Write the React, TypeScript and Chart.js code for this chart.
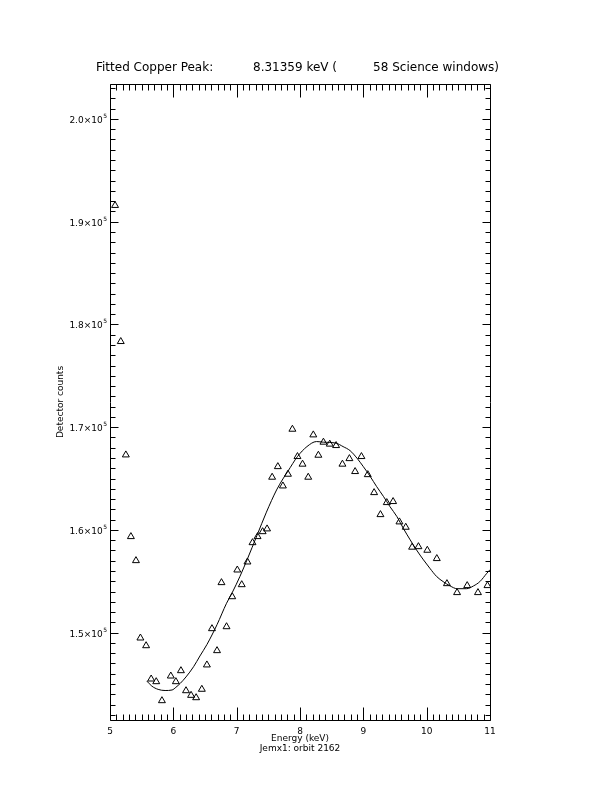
import React, { useEffect, useRef } from 'react';
import { Chart, registerables } from 'chart.js';

Chart.register(...registerables);

// Observed detector counts (triangles)
const obsEnergy = [
  5.08, 5.17, 5.25, 5.33, 5.41, 5.48, 5.57, 5.65, 5.73, 5.82,
  5.96, 6.04, 6.12, 6.20, 6.28, 6.36, 6.45, 6.53, 6.61, 6.69, 6.76, 6.84, 6.93,
  7.01, 7.08, 7.17, 7.25, 7.33, 7.41, 7.48, 7.56, 7.65, 7.73, 7.81, 7.88, 7.96,
  8.04, 8.13, 8.21, 8.29, 8.37, 8.47, 8.57, 8.67, 8.78, 8.87, 8.97,
  9.07, 9.17, 9.27, 9.37, 9.47, 9.57, 9.67, 9.77, 9.87,
  10.01, 10.16, 10.32, 10.48, 10.64, 10.81, 10.96,
];
const obsCounts = [
  191580, 178335, 167300, 159350, 157010, 149480, 148730, 145490, 145230, 143380,
  145780, 145230, 146300, 144350, 143900, 143670, 144490, 146860, 150390, 148250, 154870, 150580, 153500,
  156100, 154670, 156880, 158760, 159350, 159830, 160100, 165130, 166160, 164280, 165420, 169800, 167140,
  166400, 165130, 169250, 167270, 168540, 168350, 168210, 166400, 166940, 165680, 167140,
  165380, 163630, 161490, 162660, 162760, 160780, 160260, 158320, 158370,
  158020, 157210, 154770, 153900, 154580, 153900, 154580,
];

// Fitted curve (solid line)
const fitEnergy = [
  5.58, 5.66, 5.76, 5.87, 5.98, 6.04, 6.11, 6.20, 6.32, 6.42, 6.53, 6.69, 6.84, 6.93,
  7.05, 7.17, 7.32, 7.47, 7.63, 7.73, 7.81, 7.96, 8.11, 8.26, 8.37, 8.57, 8.68, 8.79,
  8.90, 9.00, 9.11, 9.21, 9.32, 9.42, 9.53, 9.63, 9.74, 9.84, 9.95, 10.05, 10.16,
  10.26, 10.37, 10.48, 10.63, 10.74, 10.84, 10.95, 11.0,
];
const fitCounts = [
  145300, 144800, 144480, 144370, 144420, 144680, 145070, 145690, 146690, 147730, 148840, 150780, 152860, 153900,
  155450, 157180, 159450, 161730, 163890, 164960, 165720, 167140, 168110, 168600, 168540, 168440, 168110, 167720,
  166980, 166160, 165190, 164220, 163240, 162270, 161300, 160170, 159030, 158050, 157080, 156270, 155450,
  154970, 154550, 154280, 154280, 154550, 154970, 155780, 156130,
];

const xTickValues = [5, 6, 7, 8, 9, 10, 11];
const xTickLabels = ['5', '6', '7', '8', '9', '10', '11'];
const yTickValues = [150000, 160000, 170000, 180000, 190000, 200000];
const yTickMantissas = ['1.5', '1.6', '1.7', '1.8', '1.9', '2.0'];
const yTickExponent = '5';
const titleParts = ['Fitted Copper Peak:', '8.31359 keV (', '58 Science windows)'];
const xTitle = 'Energy (keV)';
const xSubtitle = 'Jemx1: orbit 2162';
const yTitle = 'Detector counts';

const X_MIN = 5;
const X_MAX = 11;
const Y_MIN = 141500;
const Y_MAX = 203400;

const FONT = '"DejaVu Sans", sans-serif';

const framePlugin = {
  id: 'idlFrame',
  afterDraw(chart: any) {
    const ctx = chart.ctx as CanvasRenderingContext2D;
    const { left, right, top, bottom } = chart.chartArea;
    const xs = chart.scales.x;
    const ys = chart.scales.y;
    ctx.save();
    ctx.strokeStyle = '#000';
    ctx.fillStyle = '#000';
    ctx.lineWidth = 1;
    const L = Math.round(left) + 0.5;
    const R = Math.round(right) + 0.5;
    const T = Math.round(top) + 0.5;
    const B = Math.round(bottom) + 0.5;
    ctx.beginPath();
    ctx.moveTo(L, T);
    ctx.lineTo(R, T);
    ctx.lineTo(R, B);
    ctx.lineTo(L, B);
    ctx.closePath();
    ctx.stroke();

    // x ticks (bottom & top), 0.1 keV minor
    ctx.beginPath();
    for (let i = 0; i <= 60; i++) {
      const v = X_MIN + i * 0.1;
      const px = Math.round(xs.getPixelForValue(v)) + 0.5;
      const len = i % 10 === 0 ? 13 : 6;
      ctx.moveTo(px, B);
      ctx.lineTo(px, B - len);
      ctx.moveTo(px, T);
      ctx.lineTo(px, T + len);
    }
    // y ticks (left & right), 1000 minor
    for (let v = Math.ceil(Y_MIN / 1000) * 1000; v <= Y_MAX; v += 1000) {
      const py = Math.round(ys.getPixelForValue(v)) + 0.5;
      const len = v % 10000 === 0 ? 8 : 5;
      ctx.moveTo(L, py);
      ctx.lineTo(L + len, py);
      ctx.moveTo(R, py);
      ctx.lineTo(R - len, py);
    }
    ctx.stroke();

    // x tick labels
    ctx.font = `9px ${FONT}`;
    ctx.textAlign = 'center';
    ctx.textBaseline = 'alphabetic';
    xTickValues.forEach((v, i) => {
      ctx.fillText(xTickLabels[i], xs.getPixelForValue(v), bottom + 14);
    });

    // y tick labels with superscript exponent
    yTickValues.forEach((v, i) => {
      const py = ys.getPixelForValue(v);
      ctx.font = `6px ${FONT}`;
      const supW = ctx.measureText(yTickExponent).width;
      const supX = left - 3 - supW;
      ctx.textAlign = 'left';
      ctx.fillText(yTickExponent, supX, py - 1);
      ctx.font = `9px ${FONT}`;
      ctx.textAlign = 'right';
      ctx.fillText(`${yTickMantissas[i]}\u00d710`, supX - 0.5, py + 4);
    });

    // axis titles
    ctx.font = `9px ${FONT}`;
    ctx.textAlign = 'center';
    const cx = (left + right) / 2;
    ctx.fillText(xTitle, cx, bottom + 21);
    ctx.fillText(xSubtitle, cx, bottom + 31);

    ctx.save();
    ctx.translate(left - 47, (top + bottom) / 2);
    ctx.rotate(-Math.PI / 2);
    ctx.textAlign = 'center';
    ctx.textBaseline = 'alphabetic';
    ctx.fillText(yTitle, 0, 0);
    ctx.restore();

    // title pieces
    ctx.font = `12px ${FONT}`;
    ctx.textAlign = 'left';
    ctx.fillText(titleParts[0], left - 14, top - 13);
    ctx.fillText(titleParts[1], left + 143, top - 13);
    ctx.textAlign = 'right';
    ctx.fillText(titleParts[2], right + 9, top - 13);
    ctx.restore();
  },
};

export default function App() {
  const canvasRef = useRef<HTMLCanvasElement | null>(null);

  useEffect(() => {
    if (!canvasRef.current) return;
    const chart = new Chart(canvasRef.current, {
      type: 'scatter',
      data: {
        datasets: [
          {
            label: 'fit',
            data: fitEnergy.map((x, i) => ({ x, y: fitCounts[i] })),
            showLine: true,
            borderColor: '#000',
            borderWidth: 1,
            pointRadius: 0,
            fill: false,
            cubicInterpolationMode: 'monotone',
          },
          {
            label: 'observed',
            data: obsEnergy.map((x, i) => ({ x, y: obsCounts[i] })),
            showLine: false,
            pointStyle: 'triangle',
            pointRadius: 4,
            pointBorderWidth: 1,
            pointBorderColor: '#000',
            pointBackgroundColor: 'rgba(0,0,0,0)',
          },
        ],
      },
      options: {
        responsive: false,
        animation: false,
        devicePixelRatio: 1,
        layout: { padding: { left: 110, right: 122, top: 84, bottom: 72 } },
        plugins: { legend: { display: false }, tooltip: { enabled: false }, title: { display: false } },
        scales: {
          x: { type: 'linear', min: X_MIN, max: X_MAX, display: false },
          y: { type: 'linear', min: Y_MIN, max: Y_MAX, display: false },
        },
      },
      plugins: [framePlugin],
    });
    return () => chart.destroy();
  }, []);

  return (
    <div style={{ position: 'absolute', left: 0, top: 0, width: 612, height: 792, background: '#fff' }}>
      <canvas ref={canvasRef} width={612} height={792} />
    </div>
  );
}
